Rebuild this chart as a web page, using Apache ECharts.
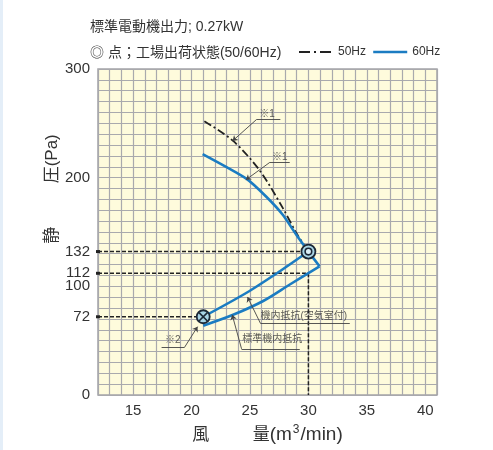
<!DOCTYPE html>
<html><head><meta charset="utf-8">
<script src="https://cdn.jsdelivr.net/npm/echarts@6/dist/echarts.min.js"></script>
<style>html,body{margin:0;padding:0;background:#fff;}#c{width:493px;height:450px;}</style>
</head><body><div id="c"></div>
<script>
// ---- data ----
const xMin = 12, xMax = 41;
const yMin = 0, yMax = 300;
const xLabelValues = [15, 20, 25, 30, 35, 40];
const yLabelValues = [0, 72, 100, 112, 132, 200, 300];
const titleLine1 = '標準電動機出力; 0.27kW';
const titleLine2 = '◎ 点；工場出荷状態(50/60Hz)';
const fan50 = [[21.1, 252], [23.56, 233.8], [25.85, 206.4], [27.84, 171.5], [28.98, 148.8], [30, 132]];
const fan60 = [[20.95, 221.6], [24.71, 198.9], [26.42, 182.2], [27.84, 165.4], [28.98, 147.2], [30, 132], [30.95, 118.4]];
const resistChamber = [[21, 72], [24.71, 94.1], [27.56, 113.9], [30, 132]];
const resistStd = [[30.95, 118.4], [28.41, 101.7], [26.13, 86.5], [23.56, 73.8], [21, 63.8]];
const opPoint = [30, 132];
const minPoint = [21, 72];
const refH = [[132, 30], [112, 30], [72, 21]]; // [pressure, flow end]
const refV = [30, 112, 0]; // flow, from, to
const annTexts = ['※1', '※1', '※2', '機内抵抗(空気室付)', '標準機内抵抗'];
const annAt = [[26.47, 258.5], [27.55, 219], [18.4, 50], [29.6, 72.5], [26.9, 51.5]];
const annTip = [[23.51, 233.8], [24.65, 198], [20.52, 62.9], [24.79, 90.2], [23.48, 73.8]];
const annUnder = [[[25.56, 253.5], [27.6, 253.5]], [[26.7, 214.1], [28.4, 214.1]], [[19.41, 44], [17.44, 44]], [[25.9, 65.9], [33.54, 65.9]], [[24.28, 42.5], [29.26, 42.5]]];

// ---- chart ----
const FONT = "'Liberation Sans', 'Noto Sans CJK JP', sans-serif";
const chart = echarts.init(document.getElementById('c'), null, {renderer: 'canvas'});

const series = [];
refH.forEach(r => {
  series.push({
    type: 'line', silent: true, z: 3,
    data: [{value: [xMin, r[0]], symbol: 'rect', symbolSize: [4, 3]}, {value: [r[1], r[0]], symbol: 'none'}],
    lineStyle: {color: '#222', width: 1.5, type: [4, 2]},
    itemStyle: {color: '#222'}
  });
});
series.push({
  type: 'line', silent: true, z: 3, symbol: 'none',
  data: [[refV[0], refV[1]], [refV[0], refV[2]]],
  lineStyle: {color: '#222', width: 1.5, type: [4, 2]}
});
series.push({
  name: '50Hz', type: 'line', smooth: 0.3, symbol: 'none', z: 5,
  data: fan50, lineStyle: {color: '#222', width: 1.8, type: [8, 3, 2, 3]}, itemStyle: {color: '#222'}
});
series.push({
  name: '60Hz', type: 'line', smooth: 0.2, symbol: 'none', z: 5,
  data: fan60, lineStyle: {color: '#1b7cc2', width: 2.6}, itemStyle: {color: '#1b7cc2'}
});
series.push({
  name: 'r1', type: 'line', smooth: 0.3, symbol: 'none', z: 5,
  data: resistChamber, lineStyle: {color: '#1b7cc2', width: 2.6}
});
series.push({
  name: 'r2', type: 'line', smooth: 0.3, symbol: 'none', z: 5,
  data: resistStd, lineStyle: {color: '#1b7cc2', width: 2.6}
});
const leaderData = [];
annTip.forEach((t, i) => {
  const u = annUnder[i];
  leaderData.push({coords: [u[0], t], symbol: ['none', 'arrow'], symbolSize: [0, 5]});
  leaderData.push({coords: [u[0], u[1]], symbol: ['none', 'none']});
});
series.push({
  type: 'lines', coordinateSystem: 'cartesian2d', silent: true, z: 6,
  data: leaderData,
  lineStyle: {color: '#444', width: 0.9, opacity: 1},
  symbol: ['none', 'arrow'], symbolSize: 5
});
series.push({
  type: 'scatter', symbolSize: 0, silent: true, z: 7,
  data: annAt.map((p, i) => ({value: p, name: annTexts[i]})),
  label: {show: true, position: 'inside', formatter: '{b}', color: '#333', fontSize: 10, fontFamily: FONT}
});
series.push({
  type: 'custom', z: 10, data: [opPoint],
  renderItem: (params, api) => {
    const p = api.coord([api.value(0), api.value(1)]);
    return {type: 'group', children: [
      {type: 'circle', shape: {cx: p[0], cy: p[1], r: 7}, style: {fill: '#a9d5e5', stroke: '#1c2836', lineWidth: 1.8}},
      {type: 'circle', shape: {cx: p[0], cy: p[1], r: 3.3}, style: {fill: '#dcf0f7', stroke: '#1c2836', lineWidth: 1.6}}
    ]};
  }
});
series.push({
  type: 'custom', z: 10, data: [minPoint],
  renderItem: (params, api) => {
    const p = api.coord([api.value(0), api.value(1)]);
    const d = 4.2;
    return {type: 'group', children: [
      {type: 'circle', shape: {cx: p[0], cy: p[1], r: 6.5}, style: {fill: '#a9d5e5', stroke: '#1c2836', lineWidth: 1.8}},
      {type: 'line', shape: {x1: p[0] - d, y1: p[1] - d, x2: p[0] + d, y2: p[1] + d}, style: {stroke: '#1c2836', lineWidth: 1.6}},
      {type: 'line', shape: {x1: p[0] - d, y1: p[1] + d, x2: p[0] + d, y2: p[1] - d}, style: {stroke: '#1c2836', lineWidth: 1.6}}
    ]};
  }
});

chart.setOption({
  animation: false,
  backgroundColor: '#fff',
  title: [
    {text: titleLine1, left: 90, top: 20, padding: 0, textStyle: {fontSize: 14, fontWeight: 'normal', color: '#333', fontFamily: FONT}},
    {text: titleLine2, left: 90, top: 46, padding: 0, textStyle: {fontSize: 14, fontWeight: 'normal', color: '#333', fontFamily: FONT}}
  ],
  legend: {
    left: 298, top: 46, padding: 0, itemWidth: 34, itemHeight: 14, itemGap: 6,
    itemStyle: {opacity: 0},
    data: [
      {name: '50Hz', lineStyle: {type: [11, 4, 2, 4], width: 2, color: '#222'}, itemStyle: {opacity: 0}},
      {name: '60Hz', lineStyle: {width: 2.4, color: '#1b7cc2'}, itemStyle: {opacity: 0}}
    ],
    textStyle: {fontSize: 12, color: '#333', fontFamily: FONT}
  },
  grid: {left: 98, right: 56, top: 69, bottom: 52, show: true, backgroundColor: '#fefbdc', borderColor: '#a4a4a8', borderWidth: 1.5},
  xAxis: {
    type: 'value', min: xMin, max: xMax, interval: 1,
    axisLine: {show: false}, axisTick: {show: false},
    splitLine: {show: true, lineStyle: {color: '#a9a9ad', width: 1.2}},
    axisLabel: {
      margin: 8, fontSize: 15, color: '#333', fontFamily: FONT,
      formatter: v => xLabelValues.includes(v) ? String(v) : ''
    },
    name: '{a|風　　  量}{b|(m}{s|3}{b|/min)}', nameLocation: 'middle', nameGap: 29,
    nameTextStyle: {rich: {
      a: {fontSize: 17, color: '#333', fontFamily: FONT, lineHeight: 22},
      b: {fontSize: 19, color: '#333', fontFamily: FONT, lineHeight: 22},
      s: {fontSize: 12, color: '#333', fontFamily: FONT, verticalAlign: 'top', lineHeight: 22, padding: [0, 1, 9, 1]}
    }}
  },
  yAxis: [
    {
      type: 'value', min: yMin, max: yMax, interval: 10, position: 'left',
      axisLine: {show: false}, axisTick: {show: false}, axisLabel: {show: false},
      splitLine: {show: true, lineStyle: {color: '#a9a9ad', width: 1.2}}
    },
    {
      type: 'value', min: yMin, max: yMax, interval: 4, position: 'left',
      axisLine: {show: false}, axisTick: {show: false}, splitLine: {show: false},
      axisLabel: {
        margin: 8, fontSize: 15, color: '#333', fontFamily: FONT,
        formatter: v => yLabelValues.includes(v) ? String(v) : ''
      }
    }
  ],
  graphic: [
    {type: 'rect', left: 0, top: 0, shape: {width: 3, height: 450}, style: {fill: '#e4eef8'}, silent: true},
    {type: 'text', x: 52, y: 189, rotation: Math.PI / 2,
     style: {text: '静　　  圧(Pa)', fontSize: 17, fill: '#333', fontFamily: FONT, align: 'center', verticalAlign: 'middle'}}
  ],
  series: series
});
</script>
</body></html>
